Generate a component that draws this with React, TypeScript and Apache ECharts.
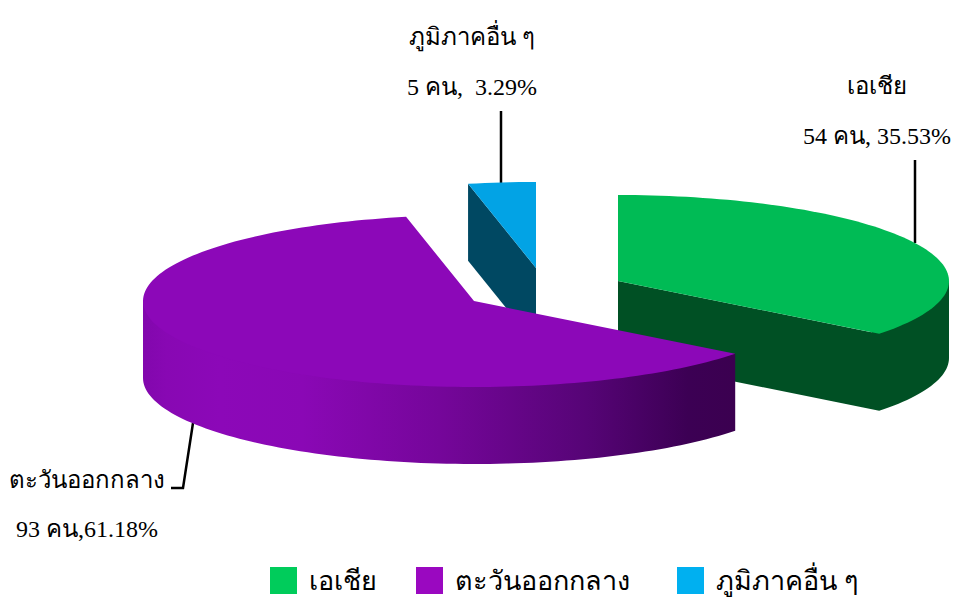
import React, { useEffect, useRef } from "react";
import * as echarts from "echarts";

const categories = ["เอเชีย", "ตะวันออกกลาง", "ภูมิภาคอื่น ๆ"];
const values = [54, 93, 5];
const valueLabels = ["54 คน, 35.53%", "93 คน,61.18%", "5 คน,  3.29%"];
const topColors = ["#00bb55", "#8c08b8", "#02a3e5"];
const legendColors = ["#00cc5b", "#9a08c0", "#00b0f0"];
const sideColors = ["#005024", null, "#004862"];
const purpleSideStops = [
  [0, "#8207ad"],
  [0.04, "#8808b3"],
  [0.13, "#8c08b8"],
  [0.27, "#8a08b5"],
  [0.5, "#75069a"],
  [0.75, "#560476"],
  [0.92, "#3c0054"],
  [1, "#3b0050"],
];
const centers = [
  [618, 281],
  [474, 301],
  [536, 268],
];
const legendLefts = [270, 416, 677];

const RX = 331;
const RY = 86;
const DEPTH = 77;
const SERIF = '"Liberation Serif", "Times New Roman", serif';

const total = values.reduce((a, b) => a + b, 0);
const startAngles: number[] = [];
values.reduce((acc, v, i) => {
  startAngles[i] = acc;
  return acc + (v / total) * 360;
}, 0);

function point(c: number[], deg: number) {
  const r = (deg * Math.PI) / 180;
  return [c[0] + RX * Math.sin(r), c[1] - RY * Math.cos(r)];
}
function arc(c: number[], from: number, to: number) {
  const pts: number[][] = [];
  if (to <= from) return pts;
  const n = Math.max(2, Math.ceil((to - from) / 1.5));
  for (let i = 0; i <= n; i++) pts.push(point(c, from + ((to - from) * i) / n));
  return pts;
}

function makeRenderItem(index: number) {
  return (_params: any, api: any) => {
    const c = centers[index];
    const sweep = (api.value(0) / total) * 360;
    const s = startAngles[index];
    const e = s + sweep;
    const startCut = s > 180 && s < 360;
    const endCut = e > 0 && e < 180;
    const front = arc(c, Math.max(s, 90), Math.min(e, 270));
    const chain: number[][] = [
      ...(startCut ? [c, point(c, s)] : []),
      ...front,
      ...(endCut ? [c] : []),
    ];
    // the upper edge of the side face is tucked under the top face so no seam shows
    const upper = chain.map((p, i) =>
      i === 0 || i === chain.length - 1 || p === c || chain.length < 4
        ? p
        : [p[0] + (c[0] - p[0]) * 0.03, p[1] + (c[1] - p[1]) * 0.03]
    );
    const side = [
      ...upper,
      ...chain
        .slice()
        .reverse()
        .map((p) => [p[0], p[1] + DEPTH]),
    ];
    const sideFill =
      sideColors[index] ??
      new echarts.graphic.LinearGradient(
        0,
        0,
        1,
        0,
        purpleSideStops.map((st) => ({ offset: st[0] as number, color: st[1] as string }))
      );
    return {
      type: "group",
      children: [
        { type: "polygon", shape: { points: side }, style: { fill: sideFill } },
        {
          type: "polygon",
          shape: { points: [c, ...arc(c, s, e)] },
          style: { fill: topColors[index] },
        },
      ],
    };
  };
}

const drawOrder = [0, 2, 1];

const textStyle = (text: string, x: number, y: number, align = "center") => ({
  type: "text",
  x,
  y,
  style: {
    text,
    fill: "#000",
    font: `24px ${SERIF}`,
    align,
    verticalAlign: "middle",
  },
});

const lineStyle = { stroke: "#000", lineWidth: 2.5, fill: "none" };

export default function App() {
  const ref = useRef<HTMLDivElement>(null);
  useEffect(() => {
    const chart = echarts.init(ref.current!, null, { renderer: "svg" });
    chart.setOption({
      animation: false,
      backgroundColor: "#fff",
      legend: categories.map((name, i) => ({
        left: legendLefts[i],
        top: 567,
        padding: 0,
        itemWidth: 27,
        itemHeight: 27,
        icon: "rect",
        selectedMode: false,
        textStyle: { fontFamily: SERIF, fontSize: 27, color: "#000", padding: [0, 0, 0, 7] },
        data: [{ name, itemStyle: { color: legendColors[i] } }],
      })),
      series: drawOrder.map((i) => ({
        type: "custom",
        name: categories[i],
        coordinateSystem: "none",
        itemStyle: { color: legendColors[i] },
        data: [[values[i]]],
        renderItem: makeRenderItem(i),
      })),
      graphic: [
        { type: "polyline", shape: { points: [[915, 160], [915, 243]] }, style: lineStyle },
        { type: "polyline", shape: { points: [[501, 111], [501, 184]] }, style: lineStyle },
        { type: "polyline", shape: { points: [[193, 423], [183, 488], [171, 488]] }, style: lineStyle },
        textStyle(categories[2], 472, 37),
        textStyle(valueLabels[2], 472, 87),
        textStyle(categories[0], 877, 86),
        textStyle(valueLabels[0], 877, 136),
        textStyle(categories[1], 87, 480),
        textStyle(valueLabels[1], 87, 529),
      ],
    });
    return () => chart.dispose();
  }, []);
  return <div ref={ref} style={{ position: "absolute", left: 0, top: 0, width: 955, height: 598 }} />;
}
